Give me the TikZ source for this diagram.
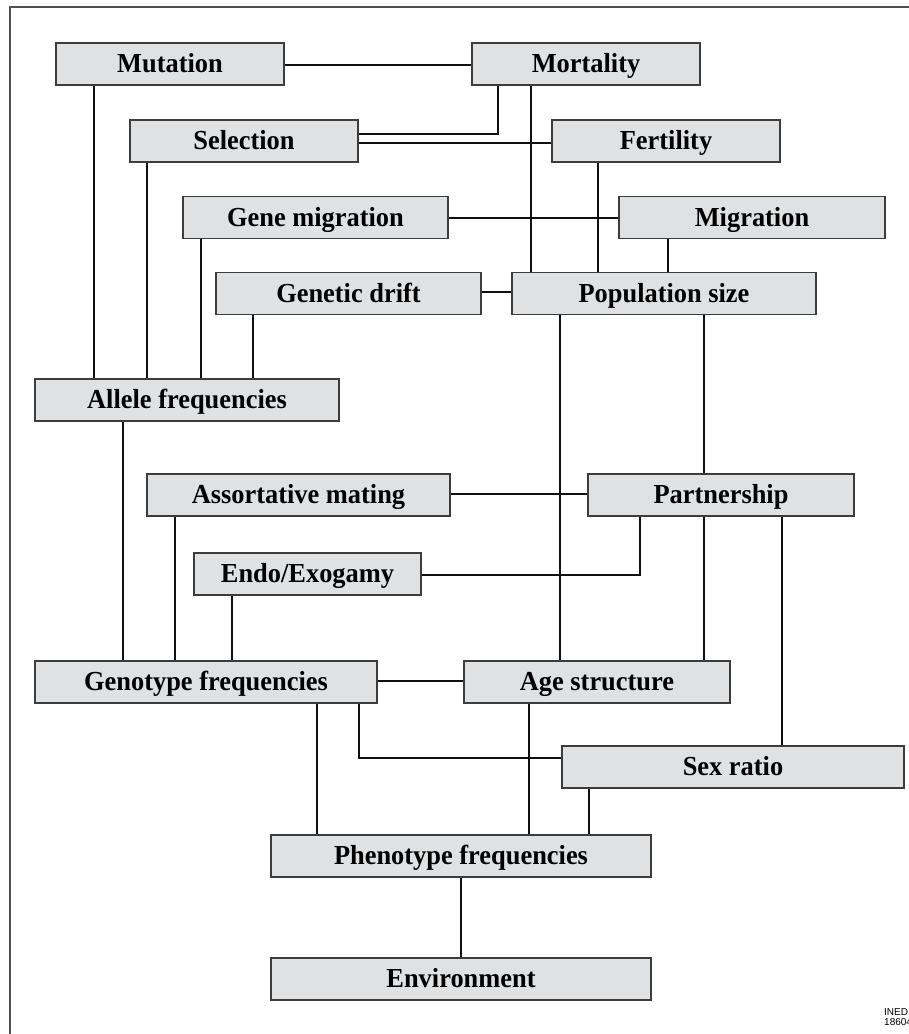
\documentclass[tikz,border=0pt]{standalone}
\usepackage{fontspec}
\setmainfont{Liberation Serif}[FakeStretch=0.96]
\newfontfamily\inedfont{Liberation Sans}
\definecolor{boxfill}{HTML}{E0E1E3}
\definecolor{boxline}{HTML}{3C3C3C}
\definecolor{linkcol}{HTML}{101010}
\definecolor{framecol}{HTML}{505050}
\pgfdeclarelayer{bg}
\pgfsetlayers{bg,main}
\begin{document}
\begin{tikzpicture}[x=1pt,y=-1pt,
  box/.style={draw=boxline, line width=1.3pt, fill=boxfill, minimum height=42pt,
    inner sep=0pt, text height=20pt, text depth=2.6pt,
    font=\fontsize{27.5}{30}\selectfont\bfseries},
  link/.style={draw=linkcol, line width=2.8pt},
  framestyle/.style={draw=framecol, line width=1.4pt}]
\useasboundingbox (0,0) rectangle (909,1034);
% frame
\draw[framestyle] (909,7) -- (10,7) -- (10,1040);
% nodes
\node[box, minimum width=228pt] (mut) at (170,64) {Mutation};
\node[box, minimum width=228pt] (mor) at (586,64) {Mortality};
\node[box, minimum width=228pt] (sel) at (244,141) {Selection};
\node[box, minimum width=228pt] (fer) at (666,141) {Fertility};
\node[box, minimum width=265pt] (gmi) at (315.5,217.5) {Gene migration};
\node[box, minimum width=266pt] (mig) at (752,217.5) {Migration};
\node[box, minimum width=265pt] (dri) at (348.5,293.5) {Genetic drift};
\node[box, minimum width=304pt] (pop) at (664,293.5) {Population size};
\node[box, minimum width=304pt] (all) at (187,400) {Allele frequencies};
\node[box, minimum width=303pt] (ass) at (298.5,495) {Assortative mating};
\node[box, minimum width=266pt] (par) at (721,495) {Partnership};
\node[box, minimum width=227pt] (end) at (307.5,574) {Endo/Exogamy};
\node[box, minimum width=342pt] (gen) at (206,682) {Genotype frequencies};
\node[box, minimum width=266pt] (age) at (597,682) {Age structure};
\node[box, minimum width=342pt] (sex) at (733,767) {Sex ratio};
\node[box, minimum width=380pt] (phe) at (461,856) {Phenotype frequencies};
\node[box, minimum width=380pt] (env) at (461,979) {Environment};
% helper coordinates
\foreach \xx in {94,123,147,175,201,232,253,317,359,461,498,529,531,560,589,598,640,668,704,782}
  \coordinate (x\xx) at (\xx,0);
\foreach \yy in {65,134,143,218,292,494,575,681,758}
  \coordinate (y\yy) at (0,\yy);
% connectors
\begin{pgfonlayer}{bg}
\draw[link] (mut.east |- y65) -- (mor.west |- y65);
\draw[link] (sel.east |- y134) -- (x498 |- y134) -- (mor.south -| x498);
\draw[link] (sel.east |- y143) -- (fer.west |- y143);
\draw[link] (mor.south -| x531) -- (pop.north -| x531);
\draw[link] (mut.south -| x94) -- (all.north -| x94);
\draw[link] (sel.south -| x147) -- (all.north -| x147);
\draw[link] (gmi.south -| x201) -- (all.north -| x201);
\draw[link] (dri.south -| x253) -- (all.north -| x253);
\draw[link] (gmi.east |- y218) -- (mig.west |- y218);
\draw[link] (fer.south -| x598) -- (pop.north -| x598);
\draw[link] (mig.south -| x668) -- (pop.north -| x668);
\draw[link] (dri.east |- y292) -- (pop.west |- y292);
\draw[link] (pop.south -| x560) -- (age.north -| x560);
\draw[link] (pop.south -| x704) -- (par.north -| x704);
\draw[link] (all.south -| x123) -- (gen.north -| x123);
\draw[link] (ass.east |- y494) -- (par.west |- y494);
\draw[link] (ass.south -| x175) -- (gen.north -| x175);
\draw[link] (end.east |- y575) -- (x640 |- y575) -- (par.south -| x640);
\draw[link] (end.south -| x232) -- (gen.north -| x232);
\draw[link] (par.south -| x704) -- (age.north -| x704);
\draw[link] (par.south -| x782) -- (sex.north -| x782);
\draw[link] (gen.east |- y681) -- (age.west |- y681);
\draw[link] (gen.south -| x317) -- (phe.north -| x317);
\draw[link] (gen.south -| x359) -- (x359 |- y758) -- (sex.west |- y758);
\draw[link] (age.south -| x529) -- (phe.north -| x529);
\draw[link] (sex.south -| x589) -- (phe.north -| x589);
\draw[link] (phe.south -| x461) -- (env.north -| x461);
\end{pgfonlayer}
% stamp
\begin{scope}
\clip (0,0) rectangle (909,1034);
\node[anchor=north west, inner sep=0pt, align=left,
  font=\inedfont\fontsize{10}{10.5}\selectfont] (ined) at (884,1008) {INED\\18604};
\end{scope}
\end{tikzpicture}
\end{document}
